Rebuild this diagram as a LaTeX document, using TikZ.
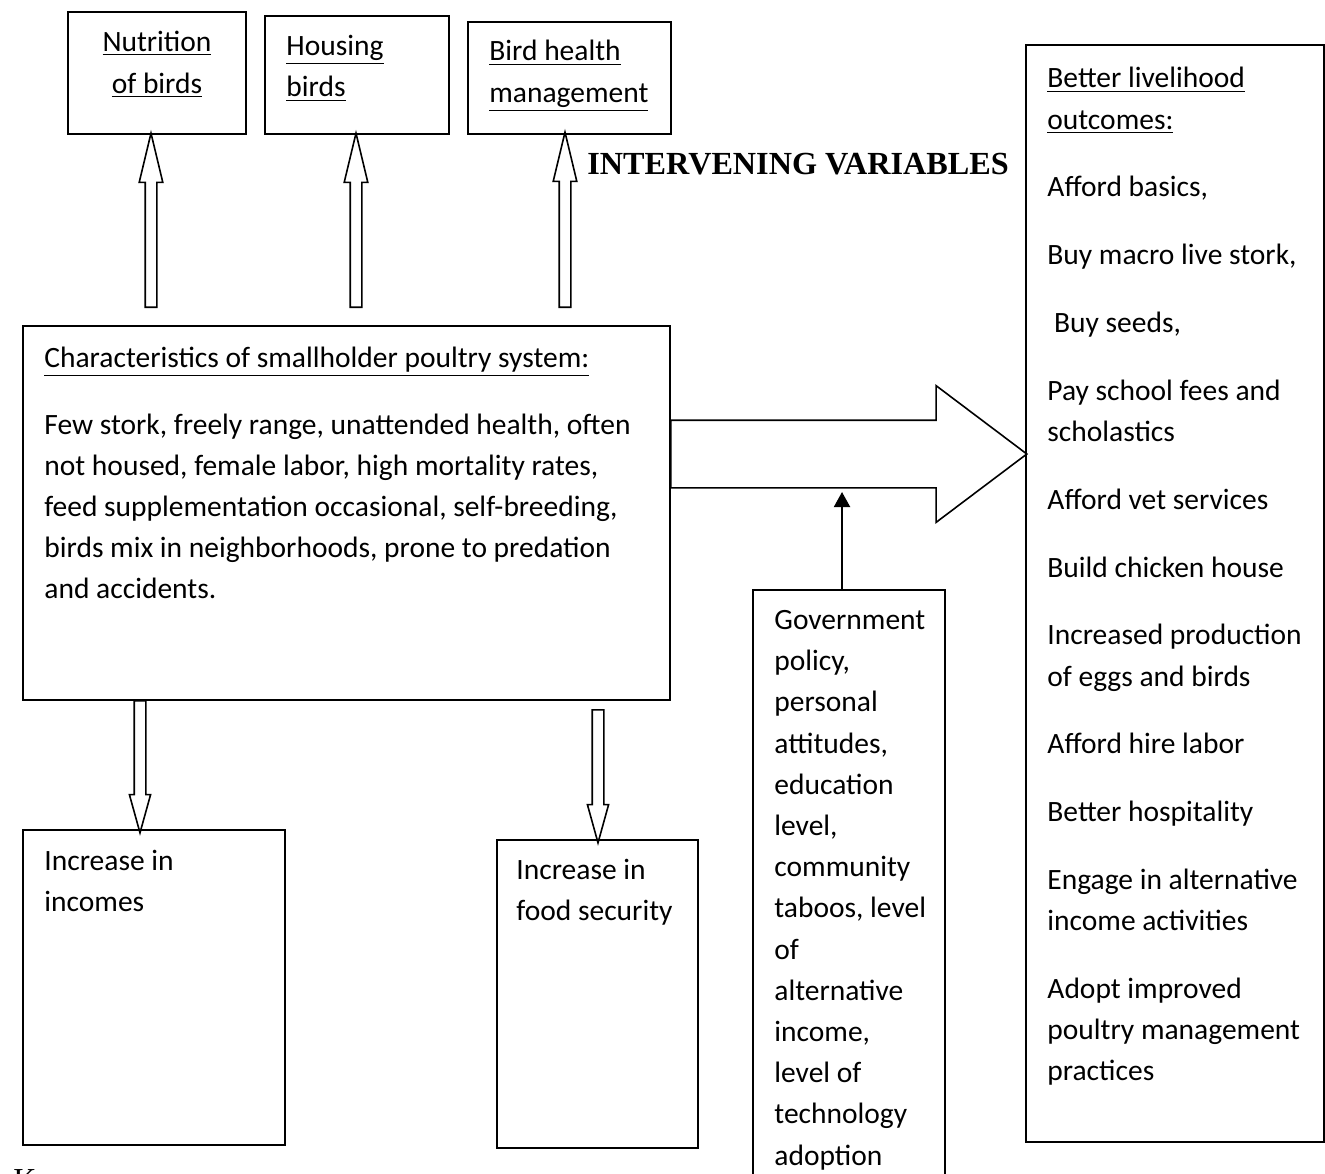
\documentclass[tikz,border=0pt]{standalone}
\usepackage{fontspec}
\setmainfont{Carlito}
\newfontfamily\headfont{Liberation Serif}
\usetikzlibrary{shapes.arrows,fit,arrows.meta}

\tikzset{
  box/.style={draw, inner sep=0pt, line width=0.65pt},
  txt/.style={font=\fontsize{14.75}{20.6}\selectfont, align=left, inner sep=0pt, anchor=north west},
  hollow/.style={draw, single arrow, inner xsep=0pt, inner ysep=2.5pt, line width=0.8pt,
    single arrow head extend=3pt, single arrow tip angle=27},
}

\begin{document}
\begin{tikzpicture}[x=0.5pt,y=-0.5pt]
\useasboundingbox (0,0) rectangle (1325,1173);

% boxes
\node[box, fit={(68,12) (246,134)}] (nut) {};
\node[box, fit={(265,16) (449,134)}] (hous) {};
\node[box, fit={(468,22) (671,134)}] (health) {};
\node[box, fit={(23,326) (670,700)}] (char) {};
\node[box, fit={(23,830) (285,1145)}] (inc) {};
\node[box, fit={(497,840) (698,1148)}] (food) {};
\node[box, fit={(753,590) (945,1190)}] (gov) {};
\node[box, fit={(1026,45) (1324,1142)}] (out) {};

% texts
\node[txt, anchor=north, align=center] (nuttxt) at (157,31) {\underline{Nutrition}\\\underline{of birds}};
\node[txt] (houstxt) at (286,35) {\underline{Housing}\\\underline{birds}};
\node[txt] (healthtxt) at (489,40) {\underline{Bird health}\\\underline{management}};
\node[font=\headfont\bfseries\fontsize{16.1}{19}\selectfont, anchor=west, inner sep=0pt] (interv) at (587,164) {INTERVENING VARIABLES};
\node[txt] (chartxt) at (44,347) {\underline{Characteristics of smallholder poultry system:}\\[12.5pt]
Few stork, freely range, unattended health, often\\
not housed, female labor, high mortality rates,\\
feed supplementation occasional, self-breeding,\\
birds mix in neighborhoods, prone to predation\\
and accidents.};
\node[txt] (inctxt) at (44,850) {Increase in\\incomes};
\node[txt] (foodtxt) at (516,859) {Increase in\\food security};
\node[txt] (govtxt) at (774,610) {Government\\policy,\\personal\\attitudes,\\education\\level,\\community\\taboos, level\\of\\alternative\\income,\\level of\\technology\\adoption};
\node[txt] (outtxt) at (1047,67) {\underline{Better livelihood}\\\underline{outcomes:}\\[13.3pt]
Afford basics,\\[13.3pt]
Buy macro live stork,\\[13.3pt]
\ Buy seeds,\\[13.3pt]
Pay school fees and\\scholastics\\[13.3pt]
Afford vet services\\[13.3pt]
Build chicken house\\[13.3pt]
Increased production\\of eggs and birds\\[13.3pt]
Afford hire labor\\[13.3pt]
Better hospitality\\[13.3pt]
Engage in alternative\\income activities\\[13.3pt]
Adopt improved\\poultry management\\practices};
\node[font=\headfont\fontsize{16}{19}\selectfont, anchor=north west, inner sep=0pt] (key) at (13,1169) {K};

% hollow arrows
\node[hollow, rotate=90, minimum height=87pt, anchor=tail] (a1) at (151,308) {};
\node[hollow, rotate=90, minimum height=87pt, anchor=tail] (a2) at (356,308) {};
\node[hollow, rotate=90, minimum height=87.5pt, anchor=tail] (a3) at (565,308) {};
\node[hollow, rotate=-90, minimum height=66pt, single arrow tip angle=31, single arrow head extend=2.4pt, anchor=tail] (a4) at (140,700) {};
\node[hollow, rotate=-90, minimum height=66.5pt, single arrow tip angle=31, single arrow head extend=2.4pt, anchor=tail] (a5) at (598,709) {};
\node[hollow, minimum height=178pt, inner ysep=16.5pt, single arrow head extend=17.25pt, single arrow tip angle=74, anchor=tail] (big) at (670,454) {};

\coordinate (bigbot) at (842,492);
\path[draw, line width=1pt, -{Triangle[width=8pt,length=7.5pt]}] (gov.north -| bigbot) -- (bigbot);
\end{tikzpicture}
\end{document}
